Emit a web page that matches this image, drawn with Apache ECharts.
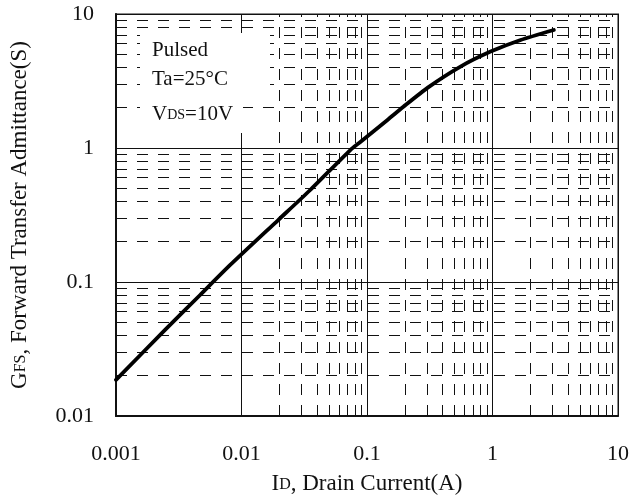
<!DOCTYPE html>
<html>
<head>
<meta charset="utf-8">
<script src="https://cdn.jsdelivr.net/npm/echarts@6/dist/echarts.min.js"></script>
<style>
  html, body { margin: 0; padding: 0; background: #fff; }
  #chart { width: 632px; height: 497px; }
</style>
</head>
<body>
<div id="chart"></div>
<script>
// Drain current (A) and forward transfer admittance (S) along the measured curve
const drainCurrent = [0.001, 0.00246, 0.00468, 0.00813, 0.0196, 0.0353, 0.0736, 0.0885, 0.1456, 0.195, 0.303, 0.556, 0.966, 1.675, 3.08];
const admittance   = [0.0186, 0.0439, 0.080, 0.134, 0.290, 0.486, 0.966, 1.11, 1.62, 2.03, 2.81, 4.05, 5.24, 6.40, 7.6];

// Decade ranges of the two log axes
const xDecades = [0.001, 0.01, 0.1, 1];
const yDecades = [0.01, 0.1, 1];
const minorSteps = [2, 3, 4, 5, 6, 7, 8, 9];

const condLines = ['Pulsed', 'Ta=25°C', '{a|V}{b|DS}{a|=10V}'];

const SERIF = "'Liberation Serif', 'Times New Roman', serif";
const textColor = '#111';

const minorOf = decs => decs.flatMap(d => minorSteps.map(m => +(d * m).toPrecision(2)));
const minorX = minorOf(xDecades);
const minorY = minorOf(yDecades);

const fmt = v => String(parseFloat(Number(v).toPrecision(2)));

const dashStyle = { color: '#111', width: 1, type: [11, 10] };

const nameRich = {
  a: { fontFamily: SERIF, fontSize: 23, color: textColor, lineHeight: 25, verticalAlign: 'bottom' },
  b: { fontFamily: SERIF, fontSize: 16, color: textColor, lineHeight: 19, verticalAlign: 'bottom', padding: [0, 0, 2, 0] }
};

const chart = echarts.init(document.getElementById('chart'));
chart.setOption({
  animation: false,
  backgroundColor: '#fff',
  grid: {
    left: 116, right: 14, top: 14, bottom: 81,
    containLabel: false, outerBoundsMode: 'none',
    show: true, borderColor: '#8a8a8a', borderWidth: 2, backgroundColor: 'transparent'
  },
  xAxis: {
    type: 'log', logBase: 10, min: 0.001, max: 10,
    name: '{a|I}{b|D}{a|, Drain Current(A)}',
    nameLocation: 'middle', nameGap: 54,
    nameTextStyle: { rich: nameRich },
    axisLine: { show: true, onZero: false, lineStyle: { color: '#111', width: 2 } },
    axisTick: { show: false },
    axisLabel: { formatter: fmt, fontFamily: SERIF, fontSize: 22, color: textColor, margin: 27 },
    splitLine: { show: true, lineStyle: { color: '#111', width: 1 } }
  },
  yAxis: {
    type: 'log', logBase: 10, min: 0.01, max: 10,
    name: '{a|G}{b|FS}{a|, Forward Transfer Admittance(S)}',
    nameLocation: 'middle', nameGap: 85, nameRotate: 90,
    nameTextStyle: { rich: nameRich },
    axisLine: { show: true, onZero: false, lineStyle: { color: '#111', width: 2 } },
    axisTick: { show: false },
    axisLabel: { formatter: fmt, fontFamily: SERIF, fontSize: 22, color: textColor, margin: 22 },
    splitLine: { show: true, lineStyle: { color: '#111', width: 1 } }
  },
  series: [
    {
      // minor (2..9) grid lines of each decade
      type: 'line', data: [], silent: true, z: 1,
      markLine: {
        silent: true, symbol: ['none', 'none'], label: { show: false },
        lineStyle: dashStyle, emphasis: { disabled: true },
        data: [
          ...minorX.map(v => ({ xAxis: v })),
          ...minorY.map(v => ({ yAxis: v }))
        ]
      }
    },
    {
      type: 'line', z: 5,
      data: drainCurrent.map((x, i) => [x, admittance[i]]),
      showSymbol: false, smooth: 0.2,
      lineStyle: { color: '#000', width: 3.8, cap: 'round', join: 'round' }
    }
  ],
  graphic: [
    { type: 'rect', z: 50, silent: true, shape: { x: 140, y: 33, width: 130, height: 67 }, style: { fill: '#fff' } },
    { type: 'rect', z: 50, silent: true, shape: { x: 140, y: 99, width: 103, height: 34 }, style: { fill: '#fff' } },
    ...condLines.map((t, i) => ({
      type: 'text', z: 60, silent: true,
      x: 152, y: [50, 79, 113][i],
      style: {
        text: t, fill: textColor, fontFamily: SERIF, fontSize: 21,
        align: 'left', verticalAlign: 'middle',
        rich: {
          a: { fontFamily: SERIF, fontSize: 21, fill: textColor, lineHeight: 23, verticalAlign: 'bottom' },
          b: { fontFamily: SERIF, fontSize: 14, fill: textColor, lineHeight: 17, verticalAlign: 'bottom', padding: [0, 0, 2, 0] }
        }
      }
    }))
  ]
});
</script>
</body>
</html>
